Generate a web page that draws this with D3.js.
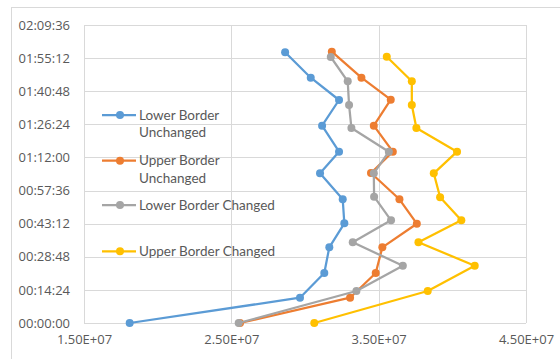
<!DOCTYPE html>
<html>
<head>
<meta charset="utf-8">
<script src="https://cdn.jsdelivr.net/npm/d3@7/dist/d3.min.js"></script>
<style>
  html, body { margin: 0; padding: 0; background: #fff; }
  svg { display: block; }
  text { fill: #595959; }
</style>
</head>
<body>
<svg id="chart" width="560" height="359"></svg>
<script>
// Elapsed time in seconds (y) against value (x) for each series
const lowerUnchangedX = [1.81e7, 2.966e7, 3.131e7, 3.165e7, 3.267e7, 3.256e7, 3.102e7, 3.231e7, 3.116e7, 3.231e7, 3.039e7, 2.865e7];
const lowerUnchangedT = [0, 660, 1305, 1975, 2602, 3228, 3906, 4470, 5149, 5819, 6401, 7064];

const upperUnchangedX = [2.559e7, 3.306e7, 3.480e7, 3.525e7, 3.759e7, 3.641e7, 3.448e7, 3.596e7, 3.467e7, 3.582e7, 3.383e7, 3.182e7];
const upperUnchangedT = [0, 660, 1305, 1975, 2591, 3228, 3914, 4470, 5149, 5827, 6401, 7080];

const lowerChangedX = [2.55e7, 3.349e7, 3.664e7, 3.324e7, 3.584e7, 3.469e7, 3.467e7, 3.569e7, 3.315e7, 3.299e7, 3.290e7, 3.175e7];
const lowerChangedT = [0, 835, 1495, 2106, 2680, 3296, 3906, 4470, 5089, 5689, 6307, 6941];

const upperChangedX = [3.063e7, 3.833e7, 4.152e7, 3.770e7, 4.061e7, 3.917e7, 3.874e7, 4.032e7, 3.756e7, 3.725e7, 3.725e7, 3.555e7];
const upperChangedT = [0, 835, 1495, 2106, 2680, 3280, 3906, 4470, 5089, 5689, 6307, 6949];

const seriesNames = ["Lower Border\nUnchanged", "Upper Border\nUnchanged", "Lower Border Changed", "Upper Border Changed"];
const seriesColors = ["#5B9BD5", "#ED7D31", "#A5A5A5", "#FFC000"];

const xTicks = [1.5e7, 2.5e7, 3.5e7, 4.5e7];
const yTicks = [0, 864, 1728, 2592, 3456, 4320, 5184, 6048, 6912, 7776];

const series = [
  { x: lowerUnchangedX, t: lowerUnchangedT },
  { x: upperUnchangedX, t: upperUnchangedT },
  { x: lowerChangedX, t: lowerChangedT },
  { x: upperChangedX, t: upperChangedT }
].map((s, i) => ({
  name: seriesNames[i],
  color: seriesColors[i],
  points: s.x.map((v, j) => ({ x: v, t: s.t[j] }))
}));

const svg = d3.select("#chart");
const plot = { left: 84, right: 526, top: 25, bottom: 323 };

const x = d3.scaleLinear().domain([1.5e7, 4.5e7]).range([plot.left, plot.right]);
const y = d3.scaleLinear().domain([0, 7776]).range([plot.bottom, plot.top]);

function fmtTime(s) {
  const h = Math.floor(s / 3600), m = Math.floor((s % 3600) / 60), sec = Math.round(s % 60);
  return [h, m, sec].map(v => String(v).padStart(2, "0")).join(":");
}
function fmtSci(v) {
  const e = Math.floor(Math.log10(v));
  return (v / Math.pow(10, e)).toFixed(2) + "E+" + String(e).padStart(2, "0");
}

// chart frame
svg.append("rect").attr("x", 11.5).attr("y", 7.5).attr("width", 600).attr("height", 400)
  .attr("fill", "none").attr("stroke", "#D9D9D9").attr("stroke-width", 1);

// gridlines
const grid = svg.append("g");
grid.selectAll("line.h").data(yTicks).join("line")
  .attr("x1", plot.left).attr("x2", plot.right)
  .attr("y1", d => Math.round(y(d)) + 0.5).attr("y2", d => Math.round(y(d)) + 0.5)
  .attr("stroke", "#D9D9D9").attr("stroke-width", 1);
grid.selectAll("line.v").data(xTicks).join("line")
  .attr("y1", plot.top).attr("y2", plot.bottom)
  .attr("x1", d => Math.round(x(d)) + 0.5).attr("x2", d => Math.round(x(d)) + 0.5)
  .attr("stroke", "#D9D9D9").attr("stroke-width", 1);

// axes
const yAxis = d3.axisLeft(y).tickValues(yTicks).tickFormat(fmtTime).tickSize(0).tickPadding(14);
const xAxis = d3.axisBottom(x).tickValues(xTicks).tickFormat(fmtSci).tickSize(0).tickPadding(12);
const gy = svg.append("g").attr("transform", `translate(${plot.left},0)`).call(yAxis);
const gx = svg.append("g").attr("transform", `translate(0,${plot.bottom})`).call(xAxis);
[gx, gy].forEach(g => {
  g.select(".domain").remove();
  g.selectAll("text").attr("font-family", "'Open Sans', sans-serif").attr("font-size", 13).attr("fill", "#595959");
});

// series lines and markers
const line = d3.line().x(d => x(d.x)).y(d => y(d.t));
series.forEach(s => {
  const g = svg.append("g");
  g.append("path").attr("d", line(s.points)).attr("fill", "none")
    .attr("stroke", s.color).attr("stroke-width", 2.25).attr("stroke-linejoin", "round");
  g.selectAll("circle").data(s.points).join("circle")
    .attr("cx", d => x(d.x)).attr("cy", d => y(d.t)).attr("r", 4).attr("fill", s.color);
});

// legend
const legendY = [115, 160.7, 205, 251.3];
const legend = svg.append("g");
series.forEach((s, i) => {
  const g = legend.append("g").attr("transform", `translate(0,${legendY[i]})`);
  g.append("line").attr("x1", 102).attr("x2", 136).attr("y1", 0).attr("y2", 0)
    .attr("stroke", s.color).attr("stroke-width", 2.25);
  g.append("circle").attr("cx", 120).attr("cy", 0).attr("r", 4).attr("fill", s.color);
  const t = g.append("text").attr("x", 139).attr("y", 0)
    .attr("font-family", "Lato, 'Open Sans', sans-serif").attr("font-size", 13.5);
  s.name.split("\n").forEach((ln, k) => {
    t.append("tspan").attr("x", 139).attr("dy", k === 0 ? "0.35em" : 17.7).text(ln);
  });
});
</script>
</body>
</html>
